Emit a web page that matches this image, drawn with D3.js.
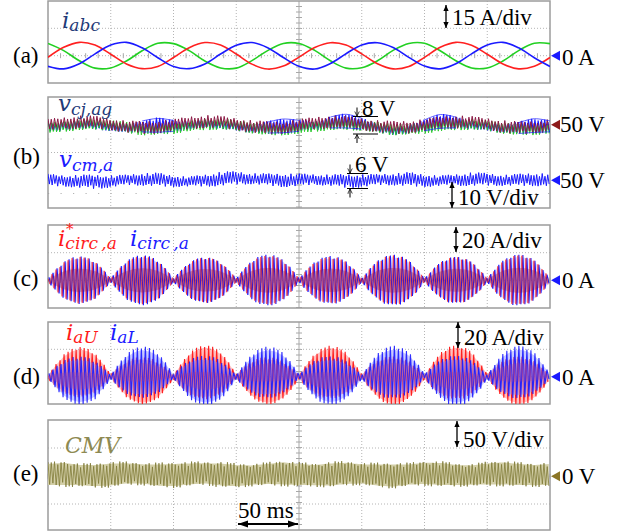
<!DOCTYPE html>
<html>
<head>
<meta charset="utf-8">
<script src="https://cdn.jsdelivr.net/npm/d3@7"></script>
<style>
  body { margin: 0; background: #fff; }
  text { font-family: "Liberation Serif", "Times New Roman", serif; }
  .math { font-family: "DejaVu Serif", serif; font-style: italic; }
</style>
</head>
<body>
<div id="grafico"></div>
<script>
// time base: 8 div x 50 ms
const tQuarter = d3.range(0, 400.01, 12.5);   // 33 samples, every 1/4 div
const tEighth = d3.range(0, 400.01, 6.25);    // 65 samples, every 1/8 div
const tEnds = [0, 400];

// (a) phase currents [A]
const iaRed = [-0.9, 4.6, 7.3, 5.8, 0.8, -4.5, -7.1, -5.9, -1.0, 4.4, 7.2, 5.9, 0.9, -4.6, -7.3, -5.7,
  -0.8, 4.5, 7.1, 5.8, 1.0, -4.4, -7.2, -5.9, -0.9, 4.6, 7.3, 5.7, 0.8, -4.5, -7.2, -5.8, -1.0];
const ibBlue = [-5.8, -7.2, -4.4, 1.0, 5.8, 7.3, 4.3, -1.1, -5.9, -7.1, -4.5, 0.9, 5.7, 7.2, 4.4, -1.0,
  -5.8, -7.3, -4.3, 1.1, 5.9, 7.1, 4.5, -0.9, -5.7, -7.2, -4.4, 1.0, 5.8, 7.3, 4.3, -1.1, -5.9];
const icGreen = [6.7, 2.8, -2.8, -6.8, -6.7, -2.9, 2.7, 6.8, 6.6, 2.8, -2.9, -6.7, -6.8, -2.7, 2.8, 6.7,
  6.7, 2.9, -2.8, -6.8, -6.6, -2.8, 2.9, 6.7, 6.8, 2.7, -2.8, -6.7, -6.7, -2.9, 2.8, 6.8, 6.6];

// (b) capacitor voltages: band centre and ripple half-height [V]
const vcjMaroonMid = [49.8, 50.5, 51.0, 50.9, 50.2, 49.3, 48.9, 49.2, 49.8, 50.7, 51.2, 51.0, 50.3, 49.4, 48.8, 49.0,
  49.7, 50.6, 51.1, 50.8, 50.2, 49.5, 48.9, 49.2, 49.9, 50.7, 51.1, 50.9, 50.3, 49.4, 48.8, 49.1, 49.8];
const vcjMaroonRip = [2.3, 2.2, 2.4, 2.3, 2.1, 2.2, 2.4, 2.3, 2.2, 2.3, 2.4, 2.2, 2.1, 2.3, 2.4, 2.2,
  2.3, 2.2, 2.4, 2.3, 2.1, 2.2, 2.4, 2.3, 2.2, 2.3, 2.4, 2.2, 2.1, 2.3, 2.4, 2.2, 2.3];
const vcjGreenMid = [48.7, 49.4, 50.0, 50.2, 49.8, 49.0, 48.3, 48.2, 48.7, 49.5, 50.1, 50.3, 49.7, 48.9, 48.2, 48.1,
  48.6, 49.4, 50.0, 50.1, 49.7, 49.0, 48.3, 48.3, 48.8, 49.5, 50.1, 50.2, 49.7, 48.8, 48.2, 48.2, 48.7];
const vcjGreenRip = [2.0, 1.9, 2.1, 2.0, 1.9, 2.0, 2.1, 1.9, 2.0, 1.9, 2.1, 2.0, 1.9, 2.0, 2.1, 1.9,
  2.0, 1.9, 2.1, 2.0, 1.9, 2.0, 2.1, 1.9, 2.0, 1.9, 2.1, 2.0, 1.9, 2.0, 2.1, 1.9, 2.0];
const vcjBlueMid = [48.8, 49.5, 50.0, 49.9, 49.2, 48.6, 49.4, 49.8, 49.6, 49.7, 50.2, 50.0, 49.3, 48.6, 49.0, 49.6,
  49.6, 49.6, 50.8, 51.3, 50.4, 48.7, 47.9, 48.2, 49.8, 51.2, 50.8, 49.9, 49.3, 48.6, 48.8, 49.7, 49.4];
const vcjBlueRip = [1.5, 1.5, 1.5, 1.5, 1.5, 1.5, 2.3, 2.9, 2.3, 1.5, 1.5, 1.5, 1.5, 1.5, 2.3, 2.9,
  2.3, 1.5, 2.3, 2.9, 2.3, 1.5, 1.5, 1.5, 2.3, 2.9, 2.3, 1.5, 1.5, 1.5, 2.3, 2.9, 2.3];
const vcmMid = [50.0, 49.8, 49.6, 49.4, 49.6, 50.1, 50.4, 50.2, 49.7, 49.5, 49.9, 50.5, 50.8, 50.6, 50.2, 50.0,
  50.1, 50.3, 50.0, 49.7, 49.8, 50.2, 50.4, 50.3, 49.9, 49.8, 50.1, 50.4, 50.3, 50.0, 50.1, 50.3, 50.1];
const vcmRip = [2.3, 2.0, 2.4, 2.6, 2.2, 1.9, 2.3, 2.5, 2.1, 1.8, 2.2, 2.6, 2.4, 2.0, 2.2, 2.5,
  2.3, 1.9, 2.1, 2.5, 2.4, 2.0, 2.2, 2.6, 2.3, 1.9, 2.1, 2.5, 2.3, 2.0, 2.2, 2.4, 2.3];

// (c) circulating current envelopes [A]
const circRefEnv = [1.2, 7.7, 12.9, 16.0, 17.0, 16.2, 13.3, 8.0, 1.2, 7.9, 13.3, 16.5, 17.5, 16.6, 13.7, 8.2,
  1.2, 7.4, 12.5, 15.5, 16.5, 15.7, 12.9, 7.8, 1.3, 8.1, 13.7, 16.9, 18.0, 17.1, 14.0, 8.5,
  1.2, 7.7, 12.9, 16.0, 17.0, 16.2, 13.3, 8.0, 1.3, 8.1, 13.7, 16.9, 18.0, 17.1, 14.0, 8.5,
  1.2, 7.6, 12.8, 15.8, 16.8, 16.0, 13.1, 7.9, 1.3, 8.2, 13.8, 17.1, 18.2, 17.3, 14.2, 8.6, 1.2];
const circEnv = [1.2, 7.8, 13.2, 16.4, 17.4, 16.5, 13.6, 8.2, 1.3, 8.3, 14.0, 17.3, 18.4, 17.5, 14.4, 8.6,
  1.2, 7.6, 12.8, 15.8, 16.8, 16.0, 13.1, 7.9, 1.3, 8.5, 14.3, 17.7, 18.8, 17.9, 14.7, 8.8,
  1.2, 7.9, 13.4, 16.5, 17.6, 16.7, 13.7, 8.3, 1.3, 8.4, 14.1, 17.5, 18.6, 17.7, 14.5, 8.7,
  1.2, 7.7, 13.1, 16.2, 17.2, 16.3, 13.4, 8.1, 1.3, 8.5, 14.3, 17.7, 18.8, 17.9, 14.7, 8.8, 1.3];
const circMid = [0, 0];

// (d) arm currents: envelopes [A] and slow offsets [A]
const armUEnv = [1.3, 8.3, 14.1, 17.4, 18.5, 17.6, 14.4, 8.7, 1.2, 7.9, 13.3, 16.5, 17.5, 16.6, 13.7, 8.2,
  1.4, 9.0, 15.2, 18.8, 20.0, 19.0, 15.6, 9.4, 1.2, 7.9, 13.3, 16.5, 17.5, 16.6, 13.7, 8.2,
  1.4, 8.8, 14.8, 18.3, 19.5, 18.5, 15.2, 9.2, 1.3, 8.1, 13.7, 16.9, 18.0, 17.1, 14.0, 8.5,
  1.4, 9.0, 15.2, 18.8, 20.0, 19.0, 15.6, 9.4, 1.3, 8.1, 13.7, 16.9, 18.0, 17.1, 14.0, 8.5, 1.3];
const armLEnv = [1.3, 8.1, 13.7, 16.9, 18.0, 17.1, 14.0, 8.5, 1.3, 8.6, 14.4, 17.9, 19.0, 18.1, 14.8, 8.9,
  1.3, 8.3, 14.1, 17.4, 18.5, 17.6, 14.4, 8.7, 1.3, 8.6, 14.4, 17.9, 19.0, 18.1, 14.8, 8.9,
  1.3, 8.1, 13.7, 16.9, 18.0, 17.1, 14.0, 8.5, 1.4, 8.8, 14.8, 18.3, 19.5, 18.5, 15.2, 9.2,
  1.3, 8.3, 14.1, 17.4, 18.5, 17.6, 14.4, 8.7, 1.4, 8.8, 14.8, 18.3, 19.5, 18.5, 15.2, 9.2, 1.4];
const armUMid = [-0.4, 2.0, 3.3, 2.6, 0.4, -2.0, -3.3, -2.6, -0.4, 2.0, 3.3, 2.6, 0.4, -2.0, -3.3, -2.6,
  -0.4, 2.0, 3.3, 2.6, 0.4, -2.0, -3.3, -2.6, -0.4, 2.0, 3.3, 2.6, 0.4, -2.0, -3.3, -2.6, -0.4];
const armLMid = [0.4, -2.0, -3.3, -2.6, -0.4, 2.0, 3.3, 2.6, 0.4, -2.0, -3.3, -2.6, -0.4, 2.0, 3.3, 2.6,
  0.4, -2.0, -3.3, -2.6, -0.4, 2.0, 3.3, 2.6, 0.4, -2.0, -3.3, -2.6, -0.4, 2.0, 3.3, 2.6, 0.4];

// (e) common-mode voltage [V]
const cmvMid = [3, 4, 2, 1, 3, 5, 4, 2, 2, 4, 5, 3, 1, 2, 4, 5, 3, 2, 3, 5, 4, 2, 1, 3, 5, 4, 2, 2, 4, 5, 3, 2, 3];
const cmvRip = [22, 23, 21, 22, 23, 21, 20, 22, 23, 22, 21, 23, 22, 20, 21, 23,
  22, 21, 23, 22, 20, 22, 23, 21, 22, 23, 21, 20, 22, 23, 22, 21, 22];

// stroke length pattern of the fast ripple (texture only)
const jitterRough = [1, 0.8, 0.95, 0.7, 1, 0.85, 0.75, 0.95, 0.9, 0.65, 0.92];
const jitterNoisy = [1, 0.6, 0.9, 0.75, 1, 0.5, 0.85, 0.95, 0.7, 0.55, 0.92, 0.8, 0.65];
const jitterLobe = [1, 0.97, 0.99, 0.94, 1, 0.96, 0.92, 0.99];

const W = 625, H = 531;
const svg = d3.select("#grafico").append("svg")
  .attr("width", W).attr("height", H)
  .style("display", "block");

svg.append("rect").attr("width", W).attr("height", H).attr("fill", "#fff");

const x = d3.scaleLinear().domain([0, 400]).range([48, 550]);

const panels = [
  { key: "a", top: 1, bottom: 83, hLines: [28.3, 55.7], sparse: [], tickRow: 55.7, label: "(a)", labelY: 63 },
  { key: "b", top: 97, bottom: 208, hLines: [124.75, 152.5, 180.25], sparse: [139, 193.5], tickRow: null, label: "(b)", labelY: 164 },
  { key: "c", top: 225, bottom: 308, hLines: [252.7, 280.3], sparse: [], tickRow: 280.3, label: "(c)", labelY: 286 },
  { key: "d", top: 322, bottom: 404, hLines: [349.3, 376.7], sparse: [], tickRow: 376.7, label: "(d)", labelY: 384 },
  { key: "e", top: 420, bottom: 530, hLines: [448, 476.2, 504], sparse: [], tickRow: 476.2, label: "(e)", labelY: 481 }
];

// channel scales
const yA = d3.scaleLinear().domain([0, 15]).range([55.7, 28.3]);
const yVcj = d3.scaleLinear().domain([50, 60]).range([124.75, 97]);
const yVcm = d3.scaleLinear().domain([50, 60]).range([180.25, 152.5]);
const yC = d3.scaleLinear().domain([0, 20]).range([280.3, 252.7]);
const yD = d3.scaleLinear().domain([0, 20]).range([376.7, 349.3]);
const yE = d3.scaleLinear().domain([0, 50]).range([476.2, 448]);

const defs = svg.append("defs");
panels.forEach(p => {
  defs.append("clipPath").attr("id", "clip-" + p.key)
    .append("rect").attr("x", 48).attr("y", p.top).attr("width", 502).attr("height", p.bottom - p.top);
});
defs.append("marker").attr("id", "ah").attr("viewBox", "0 0 8 8")
  .attr("refX", 8).attr("refY", 4).attr("markerWidth", 6).attr("markerHeight", 7)
  .attr("markerUnits", "userSpaceOnUse").attr("orient", "auto-start-reverse")
  .append("path").attr("d", "M0,0.5 L8,4 L0,7.5 Z").attr("fill", "#000");
defs.append("marker").attr("id", "ahBig").attr("viewBox", "0 0 10 8")
  .attr("refX", 10).attr("refY", 4).attr("markerWidth", 11).attr("markerHeight", 8)
  .attr("markerUnits", "userSpaceOnUse").attr("orient", "auto-start-reverse")
  .append("path").attr("d", "M0,0.5 L10,4 L0,7.5 Z").attr("fill", "#000");
defs.append("marker").attr("id", "ahOpen").attr("viewBox", "0 0 8 8")
  .attr("refX", 7).attr("refY", 4).attr("markerWidth", 6).attr("markerHeight", 6)
  .attr("markerUnits", "userSpaceOnUse").attr("orient", "auto")
  .append("path").attr("d", "M1,1 L7,4 L1,7").attr("fill", "none").attr("stroke", "#000").attr("stroke-width", 1);

// grids
const gridG = svg.append("g").attr("class", "grids");
panels.forEach(p => {
  d3.range(1, 8).forEach(k => {
    const xx = x(50 * k);
    if (k === 4) {
      gridG.append("line").attr("x1", xx).attr("x2", xx).attr("y1", p.top).attr("y2", p.bottom)
        .attr("stroke", "#a8a8a8").attr("stroke-width", 1);
      d3.range(p.top + 5.5, p.bottom, 5.5).forEach(yy => {
        gridG.append("line").attr("x1", xx - 3).attr("x2", xx + 3).attr("y1", yy).attr("y2", yy)
          .attr("stroke", "#a8a8a8").attr("stroke-width", 1);
      });
    } else {
      gridG.append("line").attr("x1", xx).attr("x2", xx).attr("y1", p.top).attr("y2", p.bottom)
        .attr("stroke", "#b4b4b4").attr("stroke-width", 1).attr("stroke-dasharray", "1,2");
    }
  });
  p.hLines.forEach(yy => {
    gridG.append("line").attr("x1", 48).attr("x2", 550).attr("y1", yy).attr("y2", yy)
      .attr("stroke", "#b4b4b4").attr("stroke-width", 1).attr("stroke-dasharray", "1,2");
  });
  p.sparse.forEach(yy => {
    gridG.append("line").attr("x1", 48).attr("x2", 550).attr("y1", yy).attr("y2", yy)
      .attr("stroke", "#b4b4b4").attr("stroke-width", 1.2).attr("stroke-dasharray", "1.2,11.3");
  });
  if (p.tickRow !== null) {
    d3.range(0, 401, 10).forEach(t => {
      gridG.append("line").attr("x1", x(t)).attr("x2", x(t)).attr("y1", p.tickRow - 2.5).attr("y2", p.tickRow + 2.5)
        .attr("stroke", "#a8a8a8").attr("stroke-width", 1);
    });
  }
  gridG.append("rect").attr("x", 48).attr("y", p.top).attr("width", 502).attr("height", p.bottom - p.top)
    .attr("fill", "none").attr("stroke", "#9c9c9c").attr("stroke-width", 1.5);
});

// fast ripple drawn as a zig-zag between the band edges
function ripplePoints(midS, ripS, halfMs, phaseMs, jitter) {
  const pts = [];
  let n = 0;
  for (let t = phaseMs; t <= 400; t += halfMs, n++) {
    const s = n % 2 === 0 ? 1 : -1;
    pts.push([t, midS(t) + s * ripS(t) * jitter[n % jitter.length]]);
  }
  return pts;
}

function drawBand(g, y, midT, mid, ripT, rip, opt) {
  const midS = d3.scaleLinear().domain(midT).range(mid);
  const ripS = d3.scaleLinear().domain(ripT).range(rip);
  const ts = d3.range(0, 400.01, 1.5);
  const area = k => d3.area().x(t => x(t)).y0(t => y(midS(t) - ripS(t) * k)).y1(t => y(midS(t) + ripS(t) * k));
  if (opt.fill) {
    g.append("path").attr("d", area(opt.fillK)(ts))
      .attr("fill", opt.fill).attr("fill-opacity", opt.fillOpacity);
  }
  const pts = ripplePoints(midS, ripS, opt.halfMs, opt.phase, opt.jitter);
  g.append("path")
    .attr("d", d3.line().x(d => x(d[0])).y(d => y(d[1]))(pts))
    .attr("fill", "none").attr("stroke", opt.color).attr("stroke-width", opt.width)
    .attr("stroke-opacity", opt.opacity || 1).attr("stroke-linejoin", "bevel");
  if (opt.inner) {
    g.append("path").attr("d", area(opt.innerK)(ts))
      .attr("fill", opt.inner).attr("fill-opacity", opt.innerOpacity);
  }
}

// (a)
const gA = svg.append("g").attr("clip-path", "url(#clip-a)");
const lineA = d3.line().curve(d3.curveCatmullRom).x((d, i) => x(tQuarter[i])).y(d => yA(d));
[[icGreen, "#22d022"], [iaRed, "#ff2020"], [ibBlue, "#1a1aff"]].forEach(([s, c]) => {
  gA.append("path").attr("d", lineA(s)).attr("fill", "none").attr("stroke", c).attr("stroke-width", 1.6);
});

// (b)
const gB = svg.append("g").attr("clip-path", "url(#clip-b)");
drawBand(gB, yVcj, tQuarter, vcjBlueMid, tQuarter, vcjBlueRip,
  { halfMs: 1.3, phase: 0.6, jitter: jitterRough, color: "#1a1aff", width: 1.1 });
drawBand(gB, yVcj, tQuarter, vcjGreenMid, tQuarter, vcjGreenRip,
  { halfMs: 1.3, phase: 0.3, jitter: jitterRough, color: "#22c822", width: 0.9 });
drawBand(gB, yVcj, tQuarter, vcjMaroonMid, tQuarter, vcjMaroonRip,
  { halfMs: 1.3, phase: 0, jitter: jitterNoisy, color: "#8c1a46", width: 1 });
// blue edges where its ripple opens wider than the others
[1, -1].forEach(sg => {
  const eye = d3.line().curve(d3.curveCatmullRom)
    .defined((d, i) => vcjBlueRip[i] > 2)
    .x((d, i) => x(tQuarter[i])).y((d, i) => yVcj(d + sg * vcjBlueRip[i] * 0.85));
  gB.append("path").attr("d", eye(vcjBlueMid)).attr("fill", "none")
    .attr("stroke", "#1a1aff").attr("stroke-width", 1).attr("stroke-opacity", 0.7);
});
drawBand(gB, yVcm, tQuarter, vcmMid, tQuarter, vcmRip,
  { halfMs: 1.1, phase: 0, jitter: jitterNoisy, color: "#1a1aff", width: 1 });

// (c)
const gC = svg.append("g").attr("clip-path", "url(#clip-c)");
drawBand(gC, yC, tEnds, circMid, tEighth, circEnv,
  { halfMs: 1.6, phase: 0.8, jitter: jitterLobe, color: "#1a1aff", width: 1.1, fill: "#8080ff", fillOpacity: 0.3, fillK: 0.9 });
drawBand(gC, yC, tEnds, circMid, tEighth, circRefEnv,
  { halfMs: 1.6, phase: 0, jitter: jitterLobe, color: "#ff2020", width: 1, opacity: 0.65,
    inner: "#8a1a4a", innerK: 0.5, innerOpacity: 0.3 });

// (d)
const gD = svg.append("g").attr("clip-path", "url(#clip-d)");
drawBand(gD, yD, tQuarter, armUMid, tEighth, armUEnv,
  { halfMs: 1.6, phase: 0, jitter: jitterLobe, color: "#ff2020", width: 1.1, fill: "#ff3030", fillOpacity: 0.3, fillK: 0.9 });
drawBand(gD, yD, tQuarter, armLMid, tEighth, armLEnv,
  { halfMs: 1.6, phase: 0.8, jitter: jitterLobe, color: "#1a1aff", width: 1.1, opacity: 0.9, fill: "#8a8aff", fillOpacity: 0.45, fillK: 0.85,
    inner: "#9a3a9a", innerK: 0.35, innerOpacity: 0.25 });

// (e)
const gE = svg.append("g").attr("clip-path", "url(#clip-e)");
drawBand(gE, yE, tQuarter, cmvMid, tQuarter, cmvRip,
  { halfMs: 1.3, phase: 0, jitter: jitterRough, color: "#7f7a36", width: 0.8, fill: "#d3cfa8", fillOpacity: 1, fillK: 0.85 });

// panel letters
panels.forEach(p => {
  svg.append("text").attr("x", 13).attr("y", p.labelY).attr("font-size", 23).text(p.label);
});

// zero / offset markers
const markers = [
  { y: 55.7, color: "#1a1aff", text: "0 A", tx: 562, ty: 65 },
  { y: 124.75, color: "#8c1a1a", text: "50 V", tx: 560, ty: 132 },
  { y: 180.25, color: "#1a1aff", text: "50 V", tx: 560, ty: 188 },
  { y: 280.3, color: "#1a1aff", text: "0 A", tx: 562, ty: 288 },
  { y: 376.7, color: "#1a1aff", text: "0 A", tx: 562, ty: 385 },
  { y: 476.2, color: "#8b7526", text: "0 V", tx: 562, ty: 484 }
];
markers.forEach(m => {
  svg.append("path").attr("d", `M551,${m.y} L560,${m.y - 5} L560,${m.y + 5} Z`).attr("fill", m.color);
  svg.append("text").attr("x", m.tx).attr("y", m.ty).attr("font-size", 23).text(m.text);
});

// volts/amps per division
const scales = [
  { text: "15 A/div", tx: 452, ty: 25, ax: 446, y1: 5, y2: 28 },
  { text: "10 V/div", tx: 458, ty: 205, ax: 452, y1: 182, y2: 208 },
  { text: "20 A/div", tx: 462, ty: 248, ax: 456, y1: 227, y2: 252 },
  { text: "20 A/div", tx: 464, ty: 345, ax: 458, y1: 322, y2: 348 },
  { text: "50 V/div", tx: 463, ty: 447, ax: 457, y1: 421, y2: 447 }
];
scales.forEach(s => {
  svg.append("line").attr("x1", s.ax).attr("x2", s.ax).attr("y1", s.y1).attr("y2", s.y2)
    .attr("stroke", "#000").attr("stroke-width", 1.3)
    .attr("marker-start", "url(#ah)").attr("marker-end", "url(#ah)");
  svg.append("text").attr("x", s.tx).attr("y", s.ty).attr("font-size", 23).text(s.text);
});

// ripple amplitude notes
function ampNote(label, tx, ty, x1, x2, yTop, yBot, ax) {
  svg.append("text").attr("x", tx).attr("y", ty).attr("font-size", 23).text(label);
  [yTop, yBot].forEach(yy => {
    svg.append("line").attr("x1", x1).attr("x2", x2).attr("y1", yy).attr("y2", yy)
      .attr("stroke", "#000").attr("stroke-width", 1);
  });
  svg.append("line").attr("x1", ax).attr("x2", ax).attr("y1", yTop - 9).attr("y2", yTop - 0.5)
    .attr("stroke", "#000").attr("stroke-width", 1).attr("marker-end", "url(#ahOpen)");
  svg.append("line").attr("x1", ax).attr("x2", ax).attr("y1", yBot + 9).attr("y2", yBot + 0.5)
    .attr("stroke", "#000").attr("stroke-width", 1).attr("marker-end", "url(#ahOpen)");
}
ampNote("8 V", 362, 116, 353, 378, 116.5, 134, 357);
ampNote("6 V", 355, 172, 347, 368, 173.5, 188.5, 350);

// time scale
svg.append("line").attr("x1", 238).attr("x2", 298).attr("y1", 524).attr("y2", 524)
  .attr("stroke", "#000").attr("stroke-width", 2)
  .attr("marker-start", "url(#ahBig)").attr("marker-end", "url(#ahBig)");
svg.append("text").attr("x", 238).attr("y", 518).attr("font-size", 23).text("50 ms");

// signal names
function mathLabel(xx, yy, main, sub, color, dy) {
  const t = svg.append("text").attr("class", "math").attr("x", xx).attr("y", yy)
    .attr("font-size", 23).attr("fill", color);
  t.append("tspan").text(main);
  t.append("tspan").attr("font-size", 17).attr("dy", dy).text(sub);
  return t;
}
mathLabel(62, 28, "i", "abc", "#1f3a78", 3);
mathLabel(58, 111, "v", "cj,ag", "#1f3a78", 4);
mathLabel(59, 167, "v", "cm,a", "#1a1aff", 4);
mathLabel(58, 246, "i", "circ\u2009,a", "#ff1a1a", 3);
svg.append("text").attr("class", "math").attr("x", 66).attr("y", 234)
  .attr("font-size", 15).attr("fill", "#ff1a1a").text("*");
mathLabel(130, 246, "i", "circ\u2009,a", "#1a1aff", 3);
mathLabel(66, 340, "i", "aU", "#ff1a1a", 3);
mathLabel(110, 340, "i", "aL", "#1a1aff", 3);
svg.append("text").attr("class", "math").attr("x", 65).attr("y", 453)
  .attr("font-size", 22).attr("fill", "#8e8a52").text("CMV");
</script>
</body>
</html>
